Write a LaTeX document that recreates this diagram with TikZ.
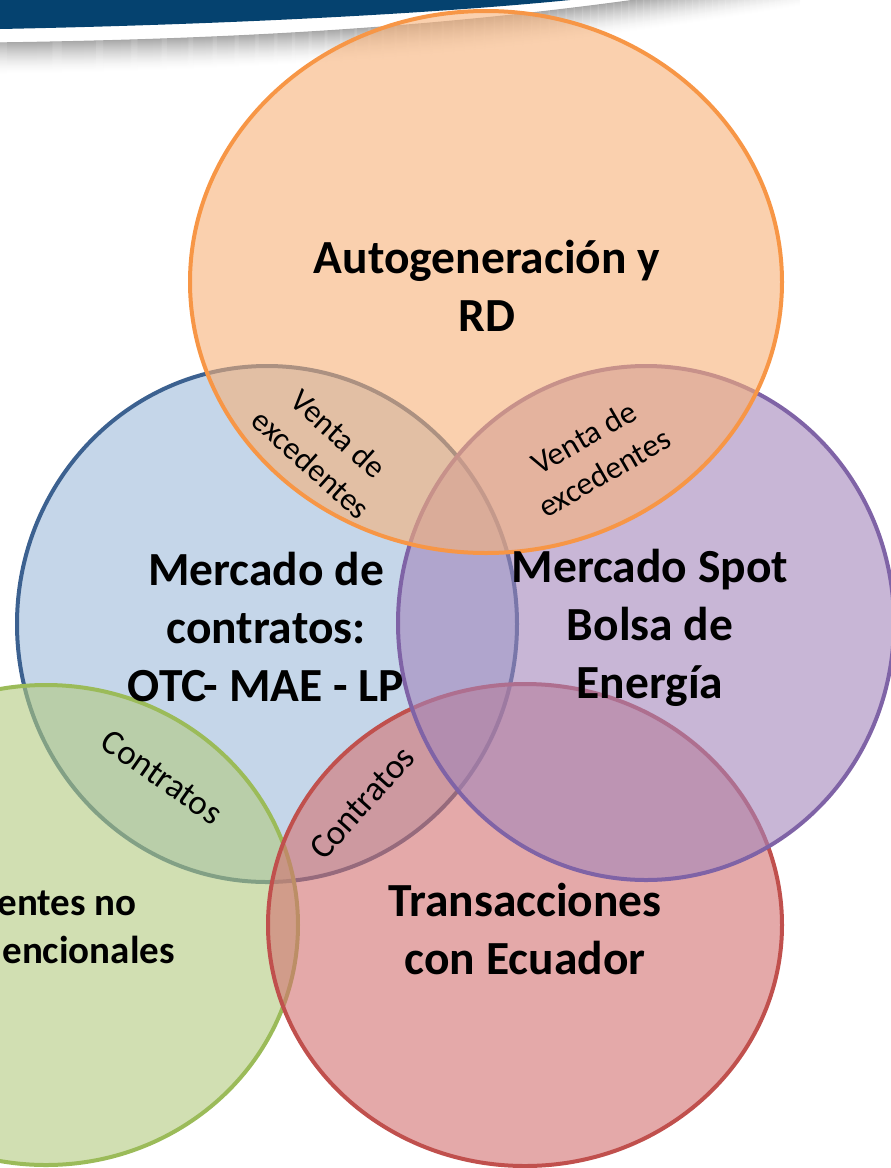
\documentclass[tikz,border=0pt]{standalone}
\usepackage{fontspec}
\setmainfont{Carlito}
\definecolor{bannerblue}{RGB}{5,66,111}
\definecolor{orstroke}{RGB}{247,150,70}
\definecolor{orfill}{RGB}{247,177,120}
\definecolor{blstroke}{RGB}{60,97,144}
\definecolor{blfill}{RGB}{158,187,218}
\definecolor{pustroke}{RGB}{127,99,166}
\definecolor{pufill}{RGB}{163,133,187}
\definecolor{grstroke}{RGB}{155,187,89}
\definecolor{grfill}{RGB}{178,202,127}
\definecolor{rdstroke}{RGB}{192,80,77}
\definecolor{rdfill}{RGB}{210,112,112}
\begin{document}
\begin{tikzpicture}[x=1pt,y=-1pt,
  circ/.style={line width=4pt, fill opacity=0.6},
  big/.style={font=\fontsize{47.5}{58}\selectfont\bfseries, align=center, inner sep=0pt},
  mid/.style={font=\fontsize{39}{50}\selectfont\bfseries, inner sep=0pt},
  small/.style={font=\fontsize{32}{41}\selectfont, align=center, inner sep=0pt},
  contr/.style={font=\fontsize{35}{42}\selectfont, inner sep=0pt}]
\useasboundingbox (0,0) rectangle (891,1168);
\clip (0,0) rectangle (891,1168);
% banner
\fill[bannerblue] (0,0) -- (570,0) .. controls (450,12) and (250,24) .. (0,29) -- cycle;
\foreach \i in {0,...,32} {
  \pgfmathsetmacro{\lvl}{34*(1-\i/32)^1.6}
  \draw[black!\lvl, line width=1.3pt] (0,43+\i) .. controls (350,38+\i) and (560,15+\i) .. (800,-25+\i);
}
% circles
\draw[circ, draw=blstroke, fill=blfill] (267,624) ellipse [x radius=250pt, y radius=258pt];
\draw[circ, draw=grstroke, fill=grfill] (46,925) ellipse [x radius=252pt, y radius=240pt];
\draw[circ, draw=rdstroke, fill=rdfill] (525,925) ellipse [x radius=257pt, y radius=241pt];
\draw[circ, draw=pustroke, fill=pufill] (646,623) ellipse [x radius=248pt, y radius=257pt];
\draw[circ, draw=orstroke, fill=orfill] (486,282) ellipse [x radius=296pt, y radius=271pt];
% texts
\node[big] (auto) at (487,286) {Autogeneración y\\RD};
\node[big] (contratos) at (266,627) {Mercado de\\contratos:\\OTC- MAE - LP};
\node[big] (spot) at (650,628) {Mercado Spot\\Bolsa de\\Energía};
\node[big] (ecuador) at (525,929) {Transacciones\\con Ecuador};
\node[mid, anchor=base east] (fnc1) at (137,915) {entes no};
\node[mid, anchor=base east] (fnc2) at (175,963) {encionales};
\node[small, rotate=-42] (venta1) at (325,449) {Venta de\\excedentes};
\node[small, rotate=30] (venta2) at (594,455) {Venta de\\excedentes};
\node[contr, rotate=-35] (contr1) at (162,777) {Contratos};
\node[contr, rotate=48] (contr2) at (362,803) {Contratos};
\end{tikzpicture}
\end{document}
